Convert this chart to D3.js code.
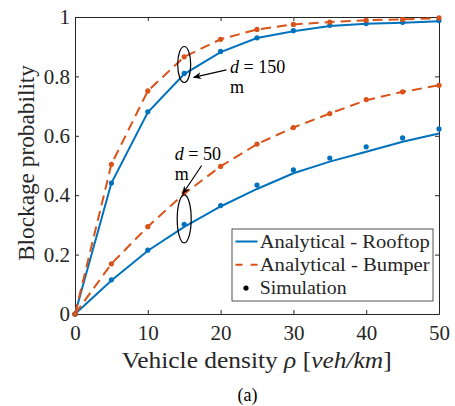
<!DOCTYPE html>
<html lang="en">
<head>
<meta charset="UTF-8">
<title>Blockage probability vs vehicle density</title>
<script src="https://d3js.org/d3.v7.min.js"></script>
<style>
  body { margin: 0; background: #fff; }
</style>
</head>
<body>
<div id="chart"></div>
<script>
// vehicle density (veh/km)
const density = [0, 5, 10, 15, 20, 25, 30, 35, 40, 45, 50];

// analytical curves
const roof150 = [0, 0.441, 0.679, 0.808, 0.882, 0.929, 0.952, 0.970, 0.977, 0.981, 0.986];
const bump150 = [0, 0.504, 0.751, 0.866, 0.925, 0.958, 0.975, 0.983, 0.989, 0.992, 0.996];
const roof50  = [0, 0.113, 0.213, 0.293, 0.362, 0.421, 0.474, 0.513, 0.546, 0.580, 0.608];
const bump50  = [0, 0.169, 0.294, 0.405, 0.497, 0.572, 0.628, 0.675, 0.720, 0.748, 0.770];

// simulation points
const simRoof150 = [0, 0.441, 0.681, 0.810, 0.884, 0.930, 0.954, 0.972, 0.978, 0.982, 0.988];
const simBump150 = [0, 0.504, 0.751, 0.866, 0.925, 0.958, 0.975, 0.983, 0.989, 0.992, 0.997];
const simRoof50  = [0, 0.115, 0.215, 0.302, 0.365, 0.434, 0.485, 0.525, 0.563, 0.593, 0.623];
const simBump50  = [0, 0.169, 0.294, 0.409, 0.497, 0.572, 0.628, 0.675, 0.722, 0.748, 0.770];

const xTicks = [0, 10, 20, 30, 40, 50];
const yTicks = [0, 0.2, 0.4, 0.6, 0.8, 1];

const blue = "#0072BD", orange = "#D95319", ink = "#262626";
const serif = "'Liberation Serif', 'Times New Roman', serif";

const W = 455, H = 406;
const margin = { top: 17, right: 16, bottom: 92, left: 75 };
const width = W - margin.left - margin.right;
const height = H - margin.top - margin.bottom;

const svg = d3.select("#chart").append("svg")
    .attr("width", W).attr("height", H)
    .style("font-family", serif);

const g = svg.append("g")
    .attr("transform", `translate(${margin.left},${margin.top})`);

const x = d3.scaleLinear().domain([0, 50]).range([0, width]);
const y = d3.scaleLinear().domain([0, 1]).range([height, 0]);

// axes, inward ticks on all four sides
const fmt = d => d3.format("")(d);
g.append("g").attr("class", "axis")
    .attr("transform", `translate(0,${height})`)
    .call(d3.axisBottom(x).tickValues(xTicks).tickSizeInner(-4).tickSizeOuter(0).tickPadding(11).tickFormat(fmt));
g.append("g").attr("class", "axis")
    .call(d3.axisTop(x).tickValues(xTicks).tickSizeInner(-4).tickSizeOuter(0).tickFormat(""));
g.append("g").attr("class", "axis")
    .call(d3.axisLeft(y).tickValues(yTicks).tickSizeInner(-4).tickSizeOuter(0).tickPadding(5).tickFormat(fmt));
g.append("g").attr("class", "axis")
    .attr("transform", `translate(${width},0)`)
    .call(d3.axisRight(y).tickValues(yTicks).tickSizeInner(-4).tickSizeOuter(0).tickFormat(""));
g.selectAll(".axis").attr("font-family", serif);
g.selectAll(".axis text").style("font-size", "21px").attr("fill", ink);
g.selectAll(".axis path, .axis line").attr("stroke", ink);

// analytical lines
const line = d3.line().x((d, i) => x(density[i])).y(d => y(d));
const curves = [
  { vals: roof150, sim: simRoof150, color: blue, dash: null },
  { vals: bump150, sim: simBump150, color: orange, dash: "10,6" },
  { vals: roof50, sim: simRoof50, color: blue, dash: null },
  { vals: bump50, sim: simBump50, color: orange, dash: "10,6" }
];
curves.forEach(c => {
  g.append("path").datum(c.vals)
    .attr("d", line)
    .attr("fill", "none")
    .attr("stroke", c.color)
    .attr("stroke-width", 2)
    .attr("stroke-dasharray", c.dash);
});
// simulation dots
curves.forEach(c => {
  g.selectAll(null).data(c.sim).enter().append("circle")
    .attr("cx", (d, i) => x(density[i]))
    .attr("cy", d => y(d))
    .attr("r", 2.6)
    .attr("fill", c.color);
});

// annotations
const ann = g.append("g");
ann.append("ellipse").attr("cx", x(15)).attr("cy", y(0.84)).attr("rx", 6.5).attr("ry", 18)
    .attr("fill", "none").attr("stroke", "#000").attr("stroke-width", 1.2);
ann.append("ellipse").attr("cx", x(15)).attr("cy", y(0.32)).attr("rx", 7).attr("ry", 24)
    .attr("fill", "none").attr("stroke", "#000").attr("stroke-width", 1.2);

svg.append("defs").append("marker")
    .attr("id", "arrow").attr("viewBox", "0 0 10 10")
    .attr("refX", 9).attr("refY", 5)
    .attr("markerWidth", 7).attr("markerHeight", 7)
    .attr("orient", "auto")
    .append("path").attr("d", "M0,1 L10,5 L0,9 L3,5 Z").attr("fill", "#000");

ann.append("line")
    .attr("x1", x(20.8)).attr("y1", y(0.822))
    .attr("x2", x(16.3)).attr("y2", y(0.797))
    .attr("stroke", "#000").attr("stroke-width", 1.2).attr("marker-end", "url(#arrow)");
ann.append("line")
    .attr("x1", x(17.4)).attr("y1", y(0.5))
    .attr("x2", x(14.8)).attr("y2", y(0.405))
    .attr("stroke", "#000").attr("stroke-width", 1.2).attr("marker-end", "url(#arrow)");

function label(px, py, num) {
  const t = ann.append("text").attr("x", px).attr("y", py).style("font-size", "18px").attr("fill", "#000");
  t.append("tspan").style("font-style", "italic").text("d");
  t.append("tspan").text(" = " + num);
  ann.append("text").attr("x", px).attr("y", py + 20).style("font-size", "18px").attr("fill", "#000").text("m");
}
label(x(21.3), y(0.811), "150");
label(x(13.7), y(0.519), "50");

// legend
const legendItems = [
  { name: "Analytical - Rooftop", color: blue, dash: null, dot: false, len: 170 },
  { name: "Analytical - Bumper", color: orange, dash: "7,8", dot: false, len: 170 },
  { name: "Simulation", color: "#000", dash: null, dot: true, len: 87 }
];
const legend = svg.append("g").attr("transform", "translate(232,229)");
legend.append("rect").attr("x", 0).attr("y", 0).attr("width", 201).attr("height", 72)
    .attr("fill", "#fff").attr("stroke", ink).attr("stroke-width", 0.8);
legendItems.forEach((d, i) => {
  const yy = 12.5 + i * 23.3;
  if (d.dot) {
    legend.append("circle").attr("cx", 14).attr("cy", yy).attr("r", 2.6).attr("fill", d.color);
  } else {
    legend.append("line").attr("x1", 3.5).attr("x2", 25.5).attr("y1", yy).attr("y2", yy)
      .attr("stroke", d.color).attr("stroke-width", 2).attr("stroke-dasharray", d.dash);
  }
  legend.append("text").attr("x", 27.7).attr("y", yy + 6.3)
    .attr("textLength", d.len).attr("lengthAdjust", "spacingAndGlyphs")
    .style("font-size", "19px").attr("fill", ink).text(d.name);
});

// axis titles
const xt = svg.append("text")
    .attr("x", 121.7).attr("y", 367.5)
    .attr("textLength", 270).attr("lengthAdjust", "spacingAndGlyphs")
    .style("font-size", "23px").attr("fill", ink);
xt.append("tspan").text("Vehicle density ");
xt.append("tspan").style("font-style", "italic").text("ρ");
xt.append("tspan").text(" [");
xt.append("tspan").style("font-style", "italic").text("veh/km");
xt.append("tspan").text("]");

svg.append("text")
    .attr("transform", "translate(34,261) rotate(-90)")
    .attr("textLength", 196).attr("lengthAdjust", "spacingAndGlyphs")
    .style("font-size", "23px").attr("fill", ink)
    .text("Blockage probability");

svg.append("text")
    .attr("x", 247.5).attr("y", 401)
    .attr("text-anchor", "middle").style("font-size", "18px").attr("fill", "#000")
    .text("(a)");
</script>
</body>
</html>
